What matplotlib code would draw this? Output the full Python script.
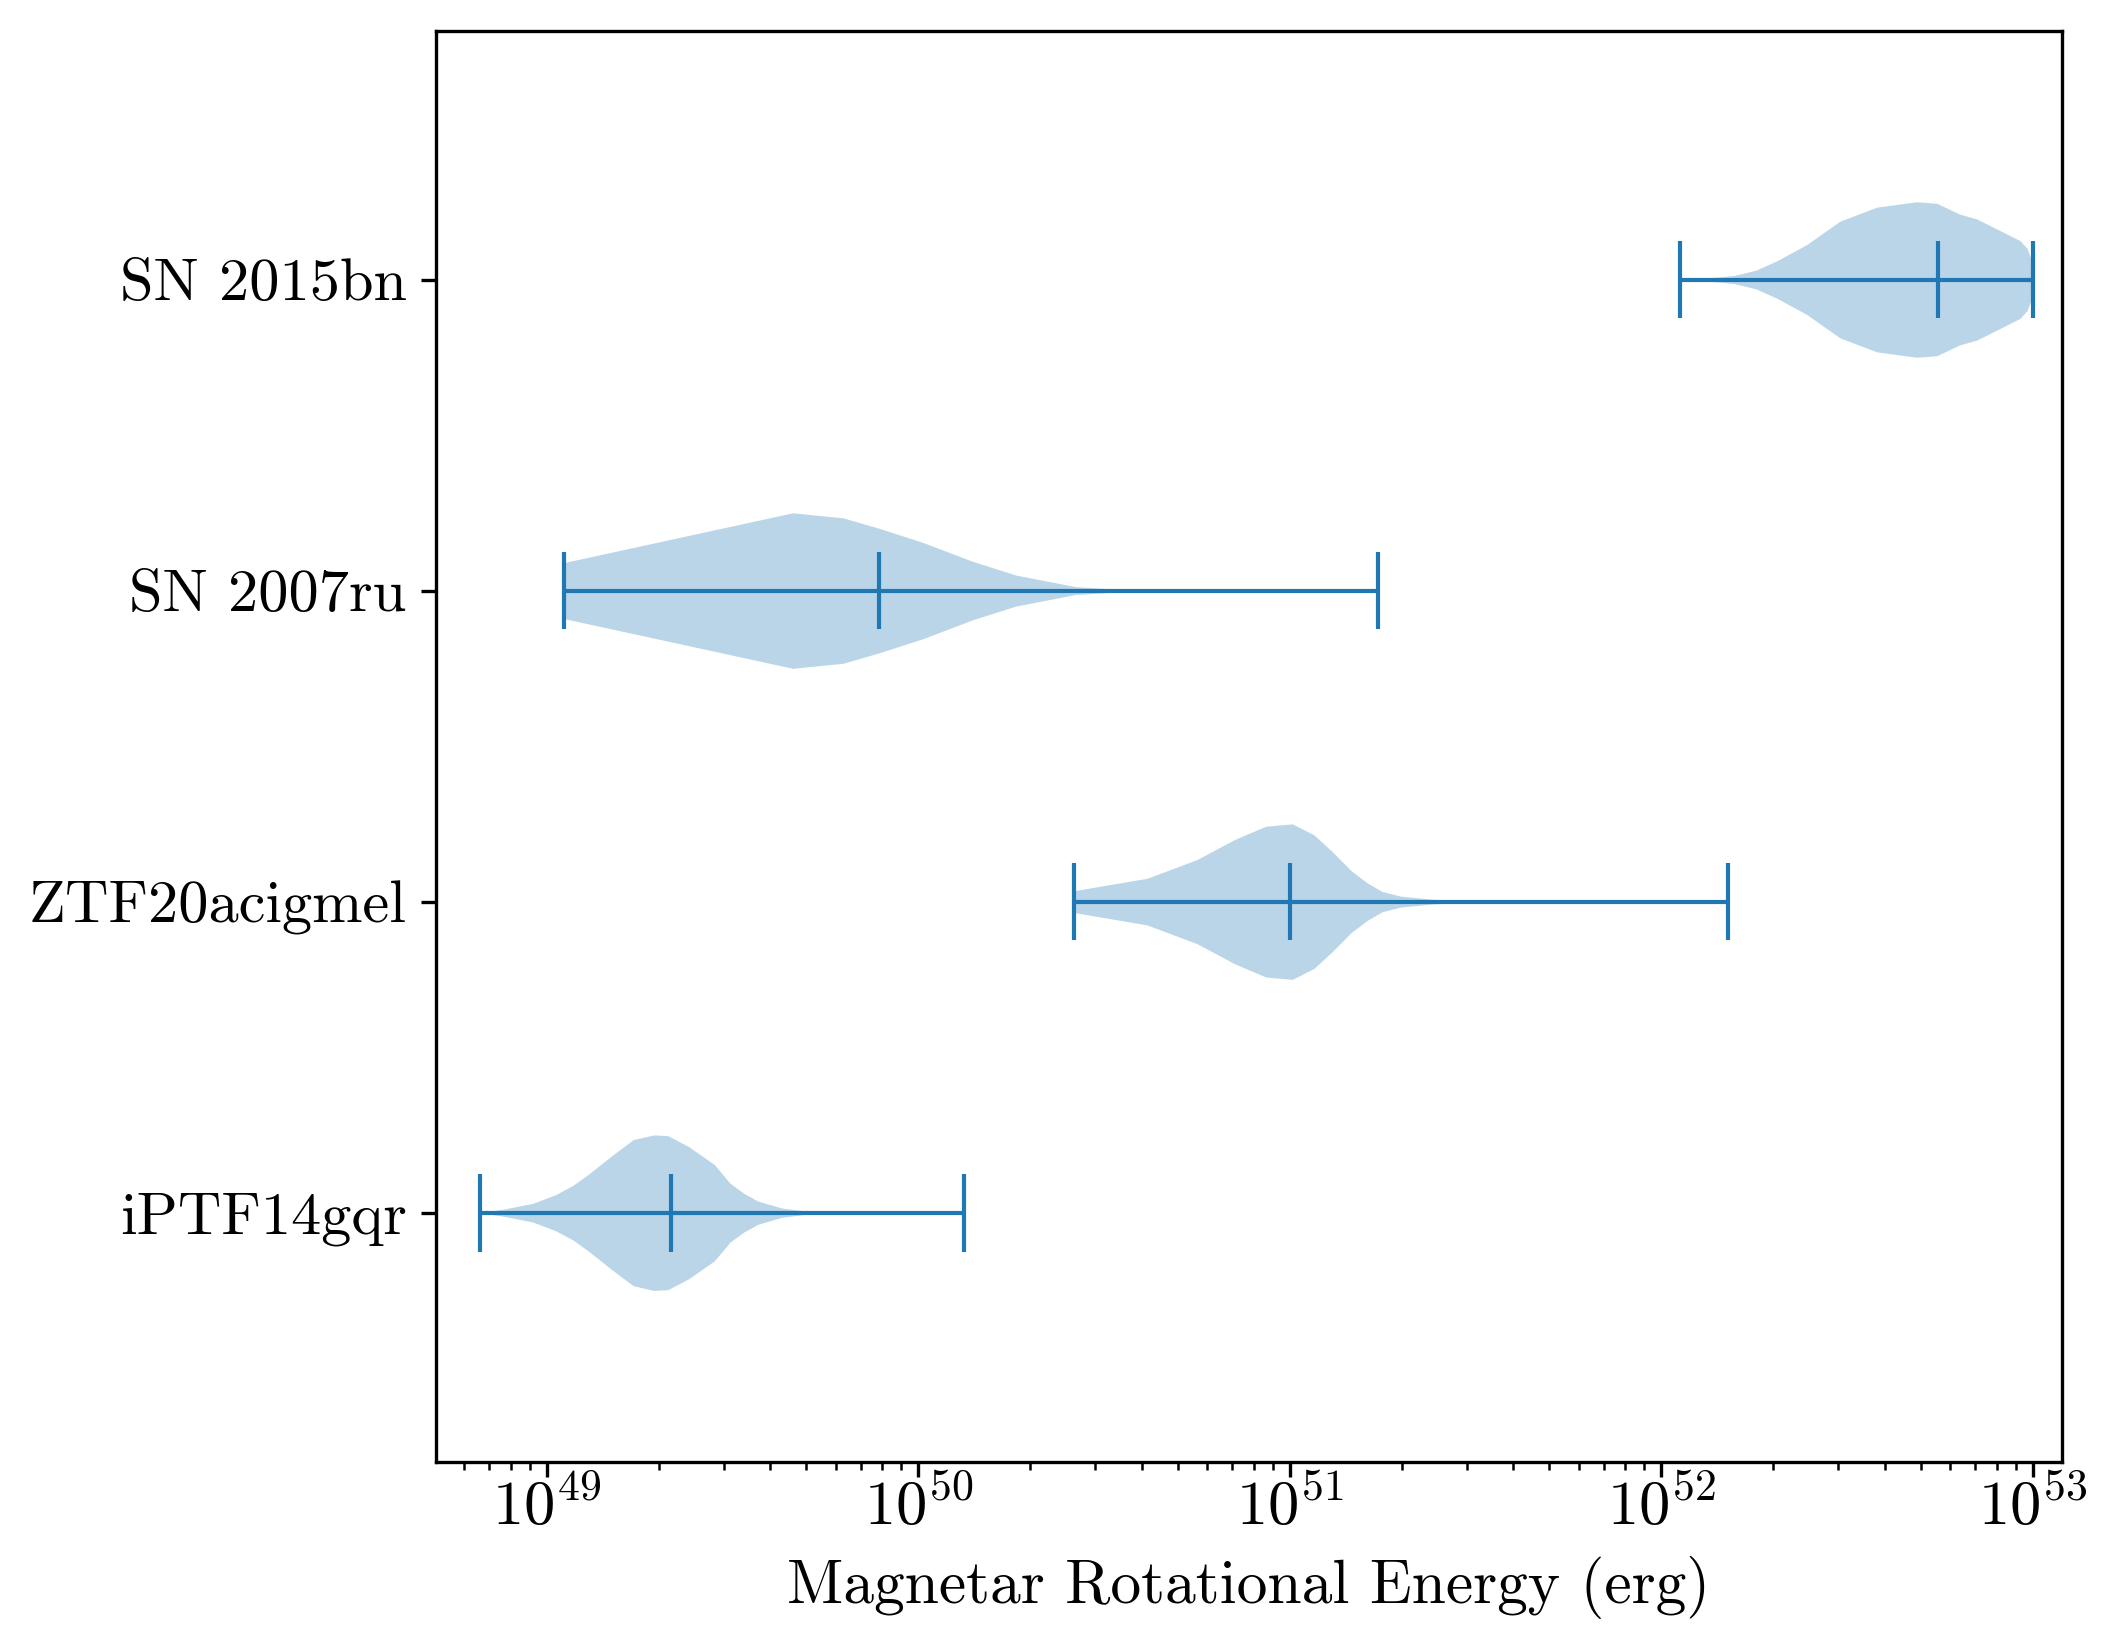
import numpy as np
import matplotlib
matplotlib.use("Agg")
from matplotlib import pyplot as plt

plt.rcParams['font.family'] = 'serif'
plt.rcParams['font.serif'] = ['cmr10']
plt.rcParams['mathtext.fontset'] = 'cm'
plt.rcParams['axes.formatter.use_mathtext'] = True

# objetos, de abajo hacia arriba
nombres = ['iPTF14gqr', 'ZTF20acigmel', 'SN 2007ru', 'SN 2015bn']

# perfiles de los violines: log10(E) y ancho relativo
logE_iptf = [48.821, 48.888, 48.962, 49.023, 49.070, 49.111, 49.177, 49.233, 49.288,
             49.326, 49.382, 49.451, 49.493, 49.530, 49.568, 49.633, 49.698, 49.792, 50.123]
ancho_iptf = [0.0, 0.05, 0.12, 0.23, 0.35, 0.49, 0.74, 0.94, 1.0,
              0.99, 0.85, 0.62, 0.38, 0.25, 0.15, 0.06, 0.02, 0.0, 0.0]

logE_ztf = [50.419, 50.616, 50.750, 50.852, 50.936, 51.007, 51.065, 51.113, 51.165,
            51.209, 51.249, 51.299, 51.386, 51.498, 51.650, 52.179]
ancho_ztf = [0.14, 0.30, 0.54, 0.80, 0.97, 1.0, 0.86, 0.65, 0.40,
             0.24, 0.13, 0.07, 0.03, 0.01, 0.003, 0.0]

logE_07ru = [49.046, 49.662, 49.798, 49.895, 50.012, 50.144, 50.262, 50.424, 50.542, 50.750, 51.237]
ancho_07ru = [0.36, 1.0, 0.935, 0.80, 0.62, 0.38, 0.20, 0.05, 0.017, 0.004, 0.0]

logE_15bn = [52.052, 52.125, 52.194, 52.255, 52.311, 52.392, 52.481, 52.580, 52.688, 52.742,
             52.804, 52.849, 52.912, 52.966, 52.985, 52.996, 53.001]
ancho_15bn = [0.0, 0.02, 0.05, 0.12, 0.24, 0.45, 0.75, 0.93, 1.0, 0.98,
              0.84, 0.78, 0.63, 0.50, 0.40, 0.26, 0.15]

log_min = [48.821, 50.419, 49.046, 52.052]
log_max = [50.123, 52.179, 51.237, 53.001]
log_mediana = [49.335, 51.000, 49.895, 52.744]

perfiles = [(logE_iptf, ancho_iptf), (logE_ztf, ancho_ztf),
            (logE_07ru, ancho_07ru), (logE_15bn, ancho_15bn)]

DPI = 300
fig = plt.figure(figsize=(7.05, 5.4967), dpi=DPI)
ax = fig.add_axes([0.2060, 0.1137, 0.7691, 0.8677])
ax.set_xscale('log')

for i, (lx, w) in enumerate(perfiles):
    pos = i + 1
    x = 10 ** np.array(lx)
    w = 0.25 * np.array(w)
    ax.fill_between(x, pos - w, pos + w, color='C0', alpha=0.3, lw=0)

pos = np.arange(1, len(nombres) + 1)
ax.hlines(pos, 10 ** np.array(log_min), 10 ** np.array(log_max), color='C0', lw=1.0)
for arr in (log_min, log_max, log_mediana):
    ax.vlines(10 ** np.array(arr), pos - 0.125, pos + 0.125, color='C0', lw=1.0)

ax.set_xlim(10 ** 48.701, 10 ** 53.080)
ax.set_ylim(0.2, 4.8)
ax.set_yticks(pos)
ax.set_yticklabels(nombres, fontsize=14.5)
ax.tick_params(axis='x', labelsize=15)

ax.set_xlabel("Magnetar Rotational Energy (erg)", fontsize=14.75)
ax.xaxis.set_label_coords(0.5, -0.0989)
ax.xaxis.label.set_va('baseline')

# ajustar el pad de las etiquetas del eje x para que el exponente quede
# unos 15 px bajo el eje, como en la figura original
fig.canvas.draw()
r = fig.canvas.get_renderer()
alto = fig.bbox.height
tope = None
for t in ax.xaxis.get_major_ticks():
    if abs(np.log10(t.get_loc()) - 51) < 1e-6:
        tope = t.label1.get_window_extent(r).y1
if tope is not None:
    objetivo = alto - 1477
    pad_nuevo = 3.5 + (tope - objetivo) * 72 / DPI
    ax.tick_params(axis='x', pad=pad_nuevo)

fig.savefig("out.png", dpi=DPI)
